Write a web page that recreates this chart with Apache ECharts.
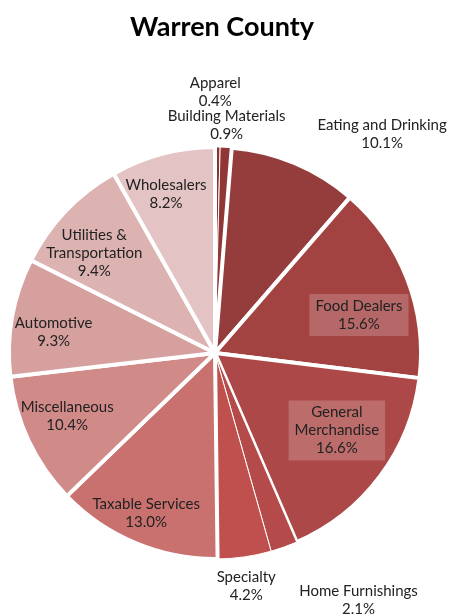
<!DOCTYPE html>
<html>
<head>
<meta charset="utf-8">
<script src="https://cdn.jsdelivr.net/npm/echarts@6/dist/echarts.min.js"></script>
<style>
  html, body { margin: 0; padding: 0; background: #fff; }
  #chart { width: 450px; height: 615px; }
</style>
</head>
<body>
<div id="chart"></div>
<script>
const categories = ['Apparel', 'Building Materials', 'Eating and Drinking', 'Food Dealers', 'General\nMerchandise',
  'Home Furnishings', 'Specialty', 'Taxable Services', 'Miscellaneous', 'Automotive', 'Utilities &\nTransportation', 'Wholesalers']
const shares = [0.4, 0.9, 10.1, 15.6, 16.6, 2.1, 4.2, 13.0, 10.4, 9.3, 9.4, 8.2]

// slice colours, clockwise from 12 o'clock
const colors = ['#8c3131', '#903636', '#953c3c', '#a34341', '#ac4847', '#b44b4a', '#c0504d',
  '#c8716f', '#d08b89', '#d6a09f', '#ddb3b2', '#e3c3c3']
// label nudges from the slice's mid point
const labelOffsets = [[-1, -155], [6, -122], [126, -121], [45, 0], [37, 14], [108, 147], [16, 128],
  [-28, 62], [-52, 18], [-57, -2], [-44, -27], [-22, -56]]
const thinBorder = [true, true, false, false, false, true, true, false, false, false, false, false]
const boxed = ['Food Dealers', 'General\nMerchandise']

const chart = echarts.init(document.getElementById('chart'))

chart.setOption({
  animation: false,
  title: {
    text: 'Warren County',
    left: 217,
    top: 9,
    textAlign: 'center',
    textStyle: { fontFamily: 'Lato', fontWeight: 'bold', fontSize: 27, color: '#000' }
  },
  series: [{
    type: 'pie',
    center: [215, 353],
    radius: 206,
    startAngle: 90,
    clockwise: true,
    avoidLabelOverlap: false,
    labelLayout: { hideOverlap: false },
    labelLine: { show: false },
    label: {
      position: 'inside',
      fontFamily: 'Lato',
      fontSize: 15,
      lineHeight: 18,
      color: '#222',
      formatter: p => `${p.name}\n${p.value.toFixed(1)}%`
    },
    data: categories.map((name, i) => ({
      name,
      value: shares[i],
      itemStyle: { color: colors[i], borderColor: '#fff', borderWidth: thinBorder[i] ? 1 : 4 },
      label: Object.assign(
        { offset: labelOffsets[i] },
        boxed.includes(name) ? { backgroundColor: 'rgba(255,255,255,0.2)', padding: [3, 6, 3, 6] } : {}
      )
    }))
  }]
})
</script>
</body>
</html>
